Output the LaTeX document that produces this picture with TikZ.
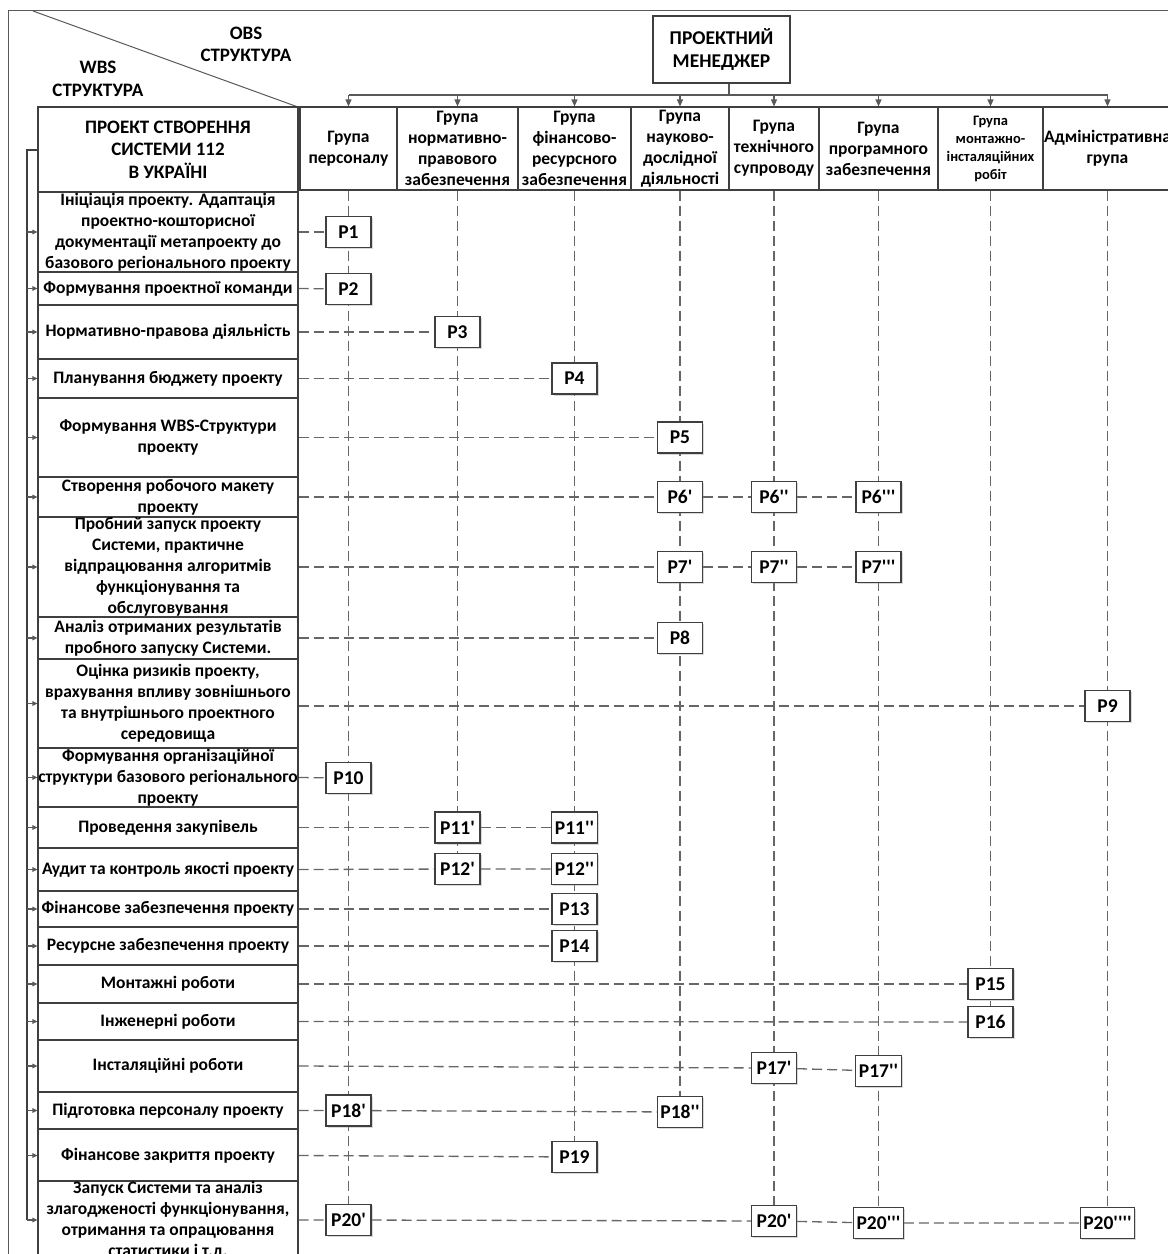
\documentclass[tikz,border=0pt]{standalone}
\usepackage{fontspec}
\setmainfont{Carlito}
\usetikzlibrary{arrows.meta,shadows,backgrounds}

\definecolor{boxc}{HTML}{3F3F3F}
\definecolor{dashc}{HTML}{666666}
\definecolor{connc}{HTML}{595959}
\newcommand{\prm}{\textquotesingle}

\begin{document}
\begin{tikzpicture}[x=1pt,y=-1pt,
  every node/.style={font=\bfseries\fontsize{17.5}{21}\selectfont},
  box/.style={draw=boxc, line width=1.1pt, fill=white, align=center, inner sep=0pt},
  rowbox/.style={box, minimum width=260pt},
  grp/.style={box, minimum height=83pt},
  pbox/.style={box, minimum width=45pt, minimum height=31pt, inner xsep=3pt,
    font=\bfseries\fontsize{19.5}{23}\selectfont,
    drop shadow={shadow xshift=1.5pt, shadow yshift=-1.5pt, opacity=0.3, fill=gray}},
  dline/.style={draw=dashc, line width=1.3pt, dash pattern=on 10pt off 5pt},
  conn/.style={draw=connc, line width=1.1pt},
  tip/.style={-{Triangle[length=7pt,width=6pt]}},
  smalltip/.style={-{Triangle[length=5pt,width=4.5pt]}},
  plain/.style={align=center, inner sep=0pt, font=\bfseries\fontsize{19}{22.5}\selectfont}
]
\useasboundingbox (0,0) rectangle (1168,1254);
\clip (0,0) rectangle (1168,1254);

% outer frame and the diagonal splitting the corner
\draw[conn, line width=1pt] (8,10) -- (1200,10);
\draw[conn, line width=1pt] (8,10) -- (8,1300);
\draw[conn, line width=1pt] (33,11) -- (298,107);

\node[plain] (obs) at (246,44.5) {OBS\\СТРУКТУРА};
\node[plain] (wbs) at (98,79) {WBS\\СТРУКТУРА};

% manager
\node[box, minimum width=137pt, minimum height=67pt, font=\bfseries\fontsize{19.5}{23}\selectfont]
  (mgr) at (721.5,49.5) {ПРОЕКТНИЙ\\МЕНЕДЖЕР};

% OBS groups
\node[grp, minimum width=97pt]  (g1) at (348.5,148.5) {Група\\персоналу};
\node[grp, minimum width=121pt] (g2) at (457.5,148.5) {Група\\нормативно-\\правового\\забезпечення};
\node[grp, minimum width=113pt] (g3) at (574.5,148.5) {Група\\фінансово-\\ресурсного\\забезпечення};
\node[grp, minimum width=98pt]  (g4) at (680,148.5) {Група\\науково-\\дослідної\\діяльності};
\node[grp, minimum width=90pt]  (g5) at (774,148.5) {Група\\технічного\\супроводу};
\node[grp, minimum width=119pt] (g6) at (878.5,148.5) {Група\\програмного\\забезпечення};
\node[grp, minimum width=105pt, font=\bfseries\fontsize{14.5}{18}\selectfont]
  (g7) at (990.5,148.5) {Група\\монтажно-\\інсталяційних\\робіт};
\node[grp, minimum width=129pt] (g8) at (1107.5,148.5) {Адміністративна\\група};

% WBS rows
\node[rowbox, minimum height=85pt, font=\bfseries\fontsize{19}{22.5}\selectfont]
  (r0) at (168,149.5) {ПРОЕКТ СТВОРЕННЯ\\СИСТЕМИ 112\\В УКРАЇНІ};
\node[rowbox, minimum height=80pt]  (r1)  at (168,232)    {Ініціація проекту. Адаптація\\проектно-кошторисної\\документації метапроекту до\\базового регіонального проекту};
\node[rowbox, minimum height=33pt]  (r2)  at (168,288.5)  {Формування проектної команди};
\node[rowbox, minimum height=54pt]  (r3)  at (168,332)    {Нормативно-правова діяльність};
\node[rowbox, minimum height=39pt]  (r4)  at (168,378.5)  {Планування бюджету проекту};
\node[rowbox, minimum height=79pt]  (r5)  at (168,437.5)  {Формування WBS-Структури\\проекту};
\node[rowbox, minimum height=40pt]  (r6)  at (168,497)    {Створення робочого макету\\проекту};
\node[rowbox, minimum height=100pt] (r7)  at (168,567)    {Пробний запуск проекту\\Системи, практичне\\відпрацювання алгоритмів\\функціонування та\\обслуговування};
\node[rowbox, minimum height=42pt]  (r8)  at (168,638)    {Аналіз отриманих результатів\\пробного запуску Системи.};
\node[rowbox, minimum height=89pt]  (r9)  at (168,703.5)  {Оцінка ризиків проекту,\\врахування впливу зовнішнього\\та внутрішнього проектного\\середовища};
\node[rowbox, minimum height=59pt]  (r10) at (168,777.5)  {Формування організаційної\\структури базового регіонального\\проекту};
\node[rowbox, minimum height=41pt]  (r11) at (168,827.5)  {Проведення закупівель};
\node[rowbox, minimum height=43pt]  (r12) at (168,869.5)  {Аудит та контроль якості проекту};
\node[rowbox, minimum height=36pt]  (r13) at (168,909)    {Фінансове забезпечення проекту};
\node[rowbox, minimum height=38pt]  (r14) at (168,946)    {Ресурсне забезпечення проекту};
\node[rowbox, minimum height=38pt]  (r15) at (168,984)    {Монтажні роботи};
\node[rowbox, minimum height=37pt]  (r16) at (168,1021.5) {Інженерні роботи};
\node[rowbox, minimum height=52pt]  (r17) at (168,1066)   {Інсталяційні роботи};
\node[rowbox, minimum height=37pt]  (r18) at (168,1110.5) {Підготовка персоналу проекту};
\node[rowbox, minimum height=53pt]  (r19) at (168,1155.5) {Фінансове закриття проекту};
\node[rowbox, minimum height=76pt]  (r20) at (168,1220)   {Запуск Системи та аналіз\\злагодженості функціонування,\\отримання та опрацювання\\статистики і т.д.};

% responsibility cells
\node[pbox] (p1)   at (348.5,232)    {P1};
\node[pbox] (p2)   at (348.5,289)    {P2};
\node[pbox] (p3)   at (457.5,332)    {P3};
\node[pbox] (p4)   at (574.5,378.5)  {P4};
\node[pbox] (p5)   at (680,437.5)    {P5};
\node[pbox] (p6a)  at (680,497)      {P6\prm};
\node[pbox] (p6b)  at (774,497)      {P6\prm\prm};
\node[pbox] (p6c)  at (878.5,497)    {P6\prm\prm\prm};
\node[pbox] (p7a)  at (680,567)      {P7\prm};
\node[pbox] (p7b)  at (774,567)      {P7\prm\prm};
\node[pbox] (p7c)  at (878.5,567)    {P7\prm\prm\prm};
\node[pbox] (p8)   at (680,638)      {P8};
\node[pbox] (p9)   at (1107.5,706)   {P9};
\node[pbox] (p10)  at (348.5,778)    {P10};
\node[pbox] (p11a) at (457.5,827.5)  {P11\prm};
\node[pbox] (p11b) at (574.5,827.5)  {P11\prm\prm};
\node[pbox] (p12a) at (457.5,869)    {P12\prm};
\node[pbox] (p12b) at (574.5,869)    {P12\prm\prm};
\node[pbox] (p13)  at (574.5,909)    {P13};
\node[pbox] (p14)  at (574.5,946)    {P14};
\node[pbox] (p15)  at (990.5,984)    {P15};
\node[pbox] (p16)  at (990.5,1022)   {P16};
\node[pbox] (p17a) at (774,1068)     {P17\prm};
\node[pbox] (p17b) at (878.5,1071)   {P17\prm\prm};
\node[pbox] (p18a) at (348.5,1110.5) {P18\prm};
\node[pbox] (p18b) at (680,1112)     {P18\prm\prm};
\node[pbox] (p19)  at (574.5,1157)   {P19};
\node[pbox] (p20a) at (348.5,1220)   {P20\prm};
\node[pbox] (p20b) at (774,1221)     {P20\prm};
\node[pbox] (p20c) at (878.5,1223)   {P20\prm\prm\prm};
\node[pbox] (p20d) at (1107.5,1223)  {P20\prm\prm\prm\prm};

% manager to groups
\coordinate (bus) at (729,95);
\draw[conn] (mgr.south -| bus) -- (bus);
\draw[conn] (g1.north |- bus) -- (g8.north |- bus);
\foreach \g in {g1,g2,g3,g4,g5,g6,g7,g8}
  \draw[conn, tip] (\g.north |- bus) -- (\g.north);

% bracket feeding every work package
\coordinate (br) at (27,150);
\draw[conn, draw=boxc, line width=1.5pt] (r0.west |- br) -- (br) -- (27,1220);
\foreach \r in {r1,r2,r3,r4,r5,r6,r7,r8,r9,r10,r11,r12,r13,r14,r15,r16,r17,r18,r19,r20}
  \draw[conn, smalltip] (\r.west -| br) -- (\r.west);

\begin{scope}[on background layer]
  % columns
  \draw[dline] (g1.south) -- (p20a);
  \draw[dline] (g2.south) -- (p12a);
  \draw[dline] (g3.south) -- (p19);
  \draw[dline] (g4.south) -- (p18b);
  \draw[dline] (g5.south) -- (p20b);
  \draw[dline] (g6.south) -- (p20c);
  \draw[dline] (g7.south) -- (p16);
  \draw[dline] (g8.south) -- (p20d);
  % rows
  \draw[dline] (r1.east) -- (p1);
  \draw[dline] (r2.east) -- (p2);
  \draw[dline] (r3.east) -- (p3);
  \draw[dline] (r4.east) -- (p4);
  \draw[dline] (r5.east) -- (p5);
  \draw[dline] (r6.east) -- (p6a) -- (p6b) -- (p6c);
  \draw[dline] (r7.east) -- (p7a) -- (p7b) -- (p7c);
  \draw[dline] (r8.east) -- (p8);
  \draw[dline] (r9.east |- p9) -- (p9);
  \draw[dline] (r10.east) -- (p10);
  \draw[dline] (r11.east) -- (p11a) -- (p11b);
  \draw[dline] (r12.east) -- (p12a) -- (p12b);
  \draw[dline] (r13.east) -- (p13);
  \draw[dline] (r14.east) -- (p14);
  \draw[dline] (r15.east) -- (p15);
  \draw[dline] (r16.east) -- (p16);
  \draw[dline] (r17.east) -- (p17a) -- (p17b);
  \draw[dline] (r18.east) -- (p18a) -- (p18b);
  \draw[dline] (r19.east) -- (p19);
  \draw[dline] (r20.east) -- (p20a) -- (p20b) -- (p20c) -- (p20d);
\end{scope}
\end{tikzpicture}
\end{document}
